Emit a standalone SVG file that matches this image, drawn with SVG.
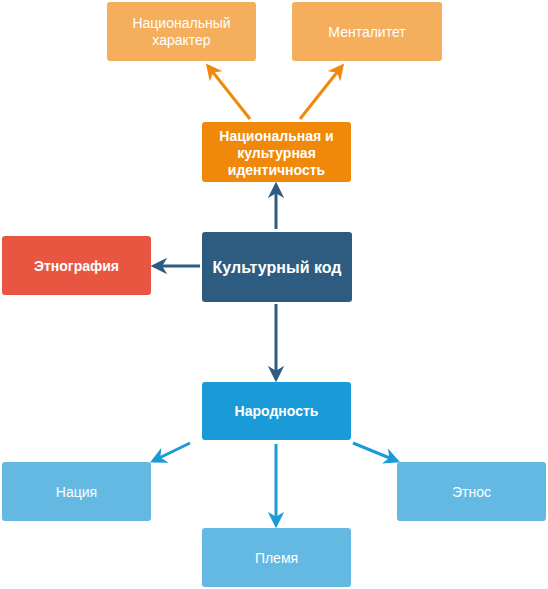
<svg xmlns="http://www.w3.org/2000/svg" width="548" height="589" viewBox="0 0 548 589">
<style>
text{font-family:"Liberation Sans",Arial,sans-serif;fill:#fff;text-anchor:middle}
.b{font-weight:bold;font-size:14px}
.n{font-size:14px}
.c{stroke-width:3;fill:none}
</style>
<defs>
<marker id="ao" viewBox="0 0 10 10" refX="8" refY="5" markerWidth="5.5" markerHeight="5.5" orient="auto" markerUnits="strokeWidth"><path d="M0,0 L10,5 L0,10 L3,5 z" fill="#F0880A"/></marker>
<marker id="ad" viewBox="0 0 10 10" refX="8" refY="5" markerWidth="5.5" markerHeight="5.5" orient="auto" markerUnits="strokeWidth"><path d="M0,0 L10,5 L0,10 L3,5 z" fill="#2E5C80"/></marker>
<marker id="ab" viewBox="0 0 10 10" refX="8" refY="5" markerWidth="5.5" markerHeight="5.5" orient="auto" markerUnits="strokeWidth"><path d="M0,0 L10,5 L0,10 L3,5 z" fill="#1A9AD6"/></marker>
</defs>
<g id="connectors">
<line class="c" x1="250" y1="119" x2="208" y2="66" stroke="#F0880A" marker-end="url(#ao)"/>
<line class="c" x1="300" y1="119" x2="342" y2="66" stroke="#F0880A" marker-end="url(#ao)"/>
<line class="c" x1="276" y1="229" x2="276" y2="185" stroke="#2E5C80" marker-end="url(#ad)"/>
<line class="c" x1="200" y1="266" x2="154" y2="266" stroke="#2E5C80" marker-end="url(#ad)"/>
<line class="c" x1="276" y1="304" x2="276" y2="379" stroke="#2E5C80" marker-end="url(#ad)"/>
<line class="c" x1="190" y1="443" x2="153" y2="461" stroke="#1A9AD6" marker-end="url(#ab)"/>
<line class="c" x1="276" y1="444" x2="276" y2="525" stroke="#1A9AD6" marker-end="url(#ab)"/>
<line class="c" x1="353" y1="443" x2="397" y2="461" stroke="#1A9AD6" marker-end="url(#ab)"/>
</g>
<g id="nat-char"><rect x="107" y="2" width="149" height="59" rx="3" fill="#F5AE5B"/><text class="n" x="181.5" y="28">Национальный</text><text class="n" x="181.5" y="45">характер</text></g>
<g id="mentality"><rect x="292" y="2" width="150" height="59" rx="3" fill="#F5AE5B"/><text class="n" x="367" y="37">Менталитет</text></g>
<g id="identity"><rect x="202" y="122" width="149" height="60" rx="3" fill="#F0880A"/><text class="b" x="276.5" y="141">Национальная и</text><text class="b" x="276.5" y="158">культурная</text><text class="b" x="276.5" y="175">идентичность</text></g>
<g id="code"><rect x="202" y="232" width="150" height="70" rx="3" fill="#2E5C80"/><text x="277" y="273" font-size="16" font-weight="bold">Культурный код</text></g>
<g id="ethnography"><rect x="2" y="236" width="149" height="59" rx="3" fill="#E85642"/><text class="b" x="76.5" y="271">Этнография</text></g>
<g id="narodnost"><rect x="202" y="382" width="149" height="58" rx="3" fill="#1A9AD6"/><text class="b" x="276.5" y="416">Народность</text></g>
<g id="nation"><rect x="2" y="462" width="149" height="59" rx="3" fill="#63B9E1"/><text class="n" x="76.5" y="497">Нация</text></g>
<g id="ethnos"><rect x="397" y="462" width="149" height="59" rx="3" fill="#63B9E1"/><text class="n" x="471.5" y="497">Этнос</text></g>
<g id="tribe"><rect x="202" y="528" width="149" height="59" rx="3" fill="#63B9E1"/><text class="n" x="276.5" y="563">Племя</text></g>
</svg>
